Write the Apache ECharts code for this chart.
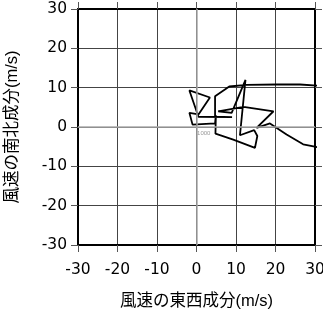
<!DOCTYPE html>
<html lang="ja">
<head>
  <meta charset="UTF-8">
  <title>hodograph</title>
  <style>
    body { margin: 0; background: #fff; }
  </style>
</head>
<body>
  <div id="main" style="width: 323px; height: 313px"></div>

  <script src="https://cdn.jsdelivr.net/npm/echarts@6/dist/echarts.min.js"></script>

  <script>
    // 軸の目盛
    var ticks = [-30, -20, -10, 0, 10, 20, 30];
    // 風速の東西成分 u (m/s)
    var uWind = [34.0, 26.2, 20.3, 12.7, 8.3, 4.7, 4.7, 9.0, 0.5, -1.8, 3.4, 0.5, -1.8, -1.0, 4.7, 4.9, 4.8,
      9.3, 14.8, 15.4, 14.6, 11.0, 12.4, 8.9, 5.5, 11.9, 19.5, 15.2, 18.6, 22.8, 27.0, 29.6, 34.0];
    // 風速の南北成分 v (m/s)
    var vWind = [10.3, 10.8, 10.8, 10.7, 10.3, 7.8, 2.6, 2.5, 2.6, 9.3, 7.5, 3.2, 3.6, 0.6, 0.9, 3.0, -1.7,
      -3.2, -5.3, -2.3, -0.8, -2.1, 12.0, 3.6, 4.0, 5.1, 4.0, -0.2, 0.9, -1.9, -4.4, -4.9, -6.0];
    var labelIndex = 16;
    var startLabel = '1000';

    var font = 'Liberation Sans, Arial, Noto Sans CJK JP';
    var tickFont = 'DejaVu Sans, Liberation Sans';
    var points = uWind.map(function (u, i) { return [u, vWind[i]]; });

    var myChart = echarts.init(document.getElementById('main'));

    function axisBase(pos) {
      return {
        type: 'value',
        position: pos,
        min: ticks[0],
        max: ticks[ticks.length - 1],
        interval: 10,
        axisLine: { show: true, onZero: false, lineStyle: { color: '#000', width: 2 } },
        axisTick: { show: true, inside: false, length: 7, lineStyle: { color: '#555', width: 1 } },
        splitLine: { show: false },
        axisLabel: { show: false }
      };
    }

    var xMain = axisBase('bottom');
    xMain.axisLabel = { show: true, color: '#000', fontSize: 15.5, fontFamily: tickFont, margin: 17 };
    xMain.splitLine = { show: true, lineStyle: { color: '#444', width: 1 } };
    xMain.name = '風速の東西成分(m/s)';
    xMain.nameLocation = 'middle';
    xMain.nameGap = 48;
    xMain.nameTextStyle = { color: '#000', fontSize: 16.5, fontFamily: font };

    var yMain = axisBase('left');
    yMain.axisLabel = { show: true, color: '#000', fontSize: 15.5, fontFamily: tickFont, margin: 11 };
    yMain.splitLine = { show: true, lineStyle: { color: '#444', width: 1 } };
    yMain.name = '風速の南北成分(m/s)';
    yMain.nameLocation = 'middle';
    yMain.nameGap = 57;
    yMain.nameTextStyle = { color: '#000', fontSize: 16.5, fontFamily: font };

    var option = {
      animation: false,
      grid: { left: 78, right: 8, top: 9, bottom: 68, containLabel: false, outerBoundsMode: 'none' },
      xAxis: [xMain, axisBase('top')],
      yAxis: [yMain, axisBase('right')],
      series: [
        {
          // 0 の線（薄い灰色）
          type: 'line',
          data: [],
          z: 1,
          markLine: {
            silent: true,
            symbol: 'none',
            label: { show: false },
            lineStyle: { color: '#aaa', width: 1.5, type: 'solid' },
            data: [{ xAxis: 0 }, { yAxis: 0 }]
          }
        },
        {
          type: 'line',
          data: points,
          z: 3,
          clip: true,
          showSymbol: false,
          symbol: 'none',
          lineStyle: { color: '#000', width: 1.8 },
          markPoint: {
            symbol: 'circle',
            symbolSize: 0,
            label: { show: true, position: 'left', color: '#999', fontSize: 6, formatter: startLabel },
            data: [{ coord: points[labelIndex] }]
          }
        }
      ]
    };

    myChart.setOption(option);
  </script>
</body>
</html>
